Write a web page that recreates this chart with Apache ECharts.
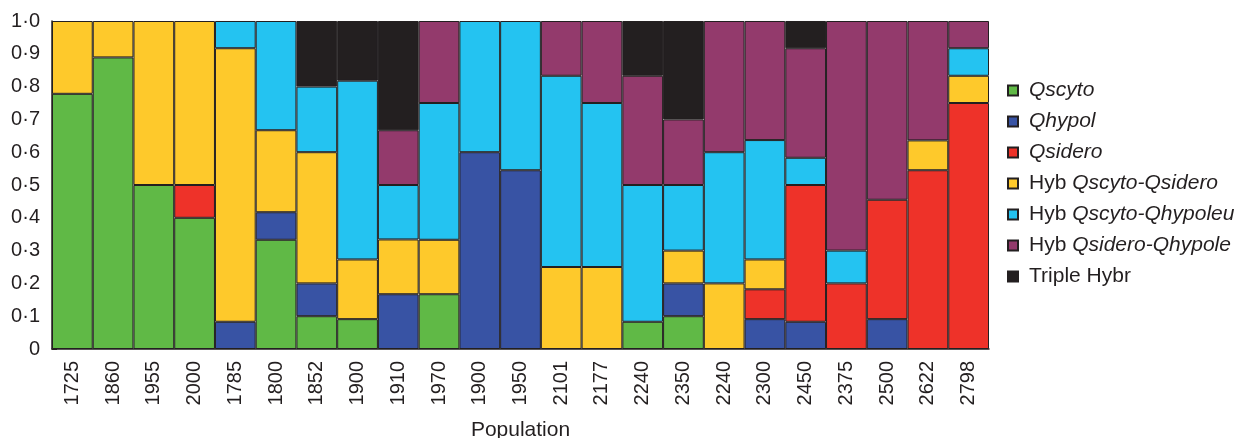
<!DOCTYPE html>
<html>
<head>
<meta charset="utf-8">
<script src="https://cdn.jsdelivr.net/npm/echarts@6/dist/echarts.min.js"></script>
<style>
  html, body { margin: 0; padding: 0; background: #fff; }
  #chart { width: 1241px; height: 438px; }
</style>
</head>
<body>
<div id="chart"></div>
<script>
// populations (duplicate names kept, axis uses index + formatter)
var populations = ['1725', '1860', '1955', '2000', '1785', '1800', '1852', '1900', '1910', '1970', '1900', '1950',
	'2101', '2177', '2240', '2350', '2240', '2300', '2450', '2375', '2500', '2622', '2798'];

// proportions per population (bottom to top)
var qscyto   = [0.778, 0.889, 0.5, 0.4, 0, 0.333, 0.1, 0.091, 0, 0.167, 0, 0, 0, 0, 0.083, 0.1, 0, 0, 0, 0, 0, 0, 0];
var qhypol   = [0, 0, 0, 0, 0.083, 0.084, 0.1, 0, 0.167, 0, 0.6, 0.545, 0, 0, 0, 0.1, 0, 0.091, 0.083, 0, 0.091, 0, 0];
var qsidero  = [0, 0, 0, 0.1, 0, 0, 0, 0, 0, 0, 0, 0, 0, 0, 0, 0, 0, 0.091, 0.417, 0.2, 0.364, 0.545, 0.75];
var hybSS    = [0.222, 0.111, 0.5, 0.5, 0.834, 0.25, 0.4, 0.182, 0.167, 0.166, 0, 0, 0.25, 0.25, 0, 0.1, 0.2, 0.091, 0, 0, 0, 0.091, 0.083];
var hybSH    = [0, 0, 0, 0, 0.083, 0.333, 0.2, 0.545, 0.166, 0.417, 0.4, 0.455, 0.583, 0.5, 0.417, 0.2, 0.4, 0.364, 0.083, 0.1, 0, 0, 0.084];
var hybSdH   = [0, 0, 0, 0, 0, 0, 0, 0, 0.167, 0.25, 0, 0, 0.167, 0.25, 0.333, 0.2, 0.4, 0.363, 0.334, 0.7, 0.545, 0.364, 0.083];
var tripleHy = [0, 0, 0, 0, 0, 0, 0.2, 0.182, 0.333, 0, 0, 0, 0, 0, 0.167, 0.3, 0, 0, 0.083, 0, 0, 0, 0];

var seriesNames = ['Qscyto', 'Qhypol', 'Qsidero', 'Hyb Qscyto-Qsidero', 'Hyb Qscyto-Qhypoleu', 'Hyb Qsidero-Qhypole', 'Triple Hybr'];
var seriesData = [qscyto, qhypol, qsidero, hybSS, hybSH, hybSdH, tripleHy];
var colors = ['#60b946', '#3853a4', '#ee3229', '#fec92b', '#24c3f1', '#933a6c', '#231f20'];

var legendLabels = {
	'Qscyto': '{i|Qscyto}',
	'Qhypol': '{i|Qhypol}',
	'Qsidero': '{i|Qsidero}',
	'Hyb Qscyto-Qsidero': '{n|Hyb }{i|Qscyto-Qsidero}',
	'Hyb Qscyto-Qhypoleu': '{n|Hyb }{i|Qscyto-Qhypoleu}',
	'Hyb Qsidero-Qhypole': '{n|Hyb }{i|Qsidero-Qhypole}',
	'Triple Hybr': '{n|Triple Hybr}'
};

var FONT = 'Liberation Sans, Arial, Helvetica, sans-serif';
var chart = echarts.init(document.getElementById('chart'), null, {renderer: 'canvas'});

var series = [];
for (var s = 0; s < seriesNames.length; s++) {
	series.push({
		type: 'bar',
		name: seriesNames[s],
		stack: 'total',
		barCategoryGap: 0,
		barGap: 0,
		itemStyle: {color: colors[s], borderColor: '#231f20', borderWidth: 1},
		emphasis: {disabled: true},
		data: seriesData[s].map(function (v) { return v === 0 ? '-' : v; })
	});
}

var idx = populations.map(function (p, i) { return String(i); });

var option = {
	animation: false,
	textStyle: {fontFamily: FONT},
	grid: {left: 52, right: 252, top: 21, bottom: 89, containLabel: false, outerBoundsMode: 'none'},
	legend: {
		orient: 'vertical',
		left: 1002,
		top: 75,
		itemWidth: 10,
		itemHeight: 10,
		itemGap: 10,
		icon: 'rect',
		data: seriesNames,
		formatter: function (name) { return legendLabels[name]; },
		textStyle: {
			fontFamily: FONT,
			fontSize: 21,
			lineHeight: 21,
			color: '#231f20',
			padding: [0, 0, 0, 6],
			rich: {
				n: {fontFamily: FONT, fontSize: 21, lineHeight: 21, color: '#231f20'},
				i: {fontFamily: FONT, fontSize: 21, lineHeight: 21, color: '#231f20', fontStyle: 'italic'}
			}
		}
	},
	xAxis: {
		type: 'category',
		data: idx,
		name: 'Population',
		nameLocation: 'middle',
		nameGap: 71,
		nameTextStyle: {fontFamily: FONT, fontSize: 21, color: '#231f20'},
		axisLine: {lineStyle: {color: '#231f20', width: 1.5}},
		axisTick: {show: false},
		axisLabel: {
			rotate: 90,
			interval: 0,
			margin: 12,
			fontFamily: FONT,
			fontSize: 20,
			color: '#231f20',
			formatter: function (v) { return populations[+v]; }
		}
	},
	yAxis: {
		type: 'value',
		min: 0,
		max: 1,
		interval: 0.1,
		splitLine: {show: false},
		axisLine: {show: true, lineStyle: {color: '#231f20', width: 1.5}},
		axisTick: {show: true, inside: true, length: 5, lineStyle: {color: '#231f20'}},
		axisLabel: {
			margin: 12,
			fontFamily: FONT,
			fontSize: 20,
			color: '#231f20',
			formatter: function (v) { return v === 0 ? '0' : v.toFixed(1).replace('.', '\u00b7'); }
		}
	},
	series: series
};
chart.setOption(option);
</script>
</body>
</html>
